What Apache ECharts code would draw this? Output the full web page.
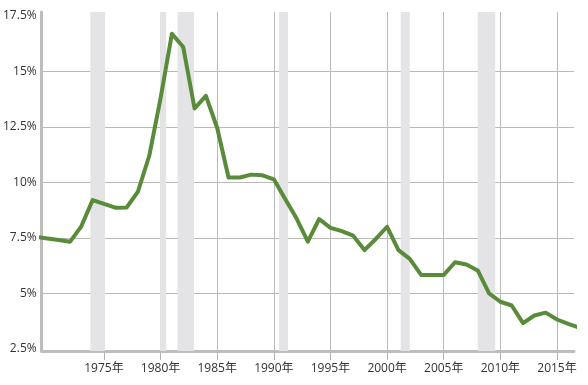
<!DOCTYPE html>
<html>
<head>
<meta charset="utf-8">
<script src="https://cdn.jsdelivr.net/npm/echarts@6/dist/echarts.min.js"></script>
<style>
html,body{margin:0;padding:0;background:#fff;}
#chart{width:588px;height:385px;}
</style>
</head>
<body>
<div id="chart"></div>
<script>
// Years and rate values (%)
const years = [1969,1970,1971,1972,1973,1974,1975,1976,1977,1978,1979,1980,1981,1982,1983,1984,1985,1986,1987,1988,1989,1990,1991,1992,1993,1994,1995,1996,1997,1998,1999,2000,2001,2002,2003,2004,2005,2006,2007,2008,2009,2010,2011,2012,2013,2014,2015,2016,2017];
const rates = [7.55,7.47,7.40,7.32,8.02,9.2,9.03,8.86,8.87,9.58,11.2,13.8,16.7,16.1,13.33,13.9,12.45,10.22,10.22,10.35,10.32,10.14,9.25,8.38,7.33,8.35,7.95,7.8,7.6,6.95,7.45,8.0,6.95,6.55,5.83,5.83,5.83,6.4,6.3,6.03,5.0,4.62,4.45,3.66,4.0,4.13,3.82,3.62,3.45];
// Recession periods (start, end)
const recessionStart = [1973.8,1979.95,1981.5,1990.45,2001.2,2008.0];
const recessionEnd   = [1975.1,1980.5,1982.95,1991.25,2002.0,2009.55];
// Tick labels
const xTickYears = [1975,1980,1985,1990,1995,2000,2005,2010,2015];
const yTickValues = [2.5,5,7.5,10,12.5,15,17.5];
const yTickLabels = ['2.5%','5%','7.5%','10%','12.5%','15%','17.5%'];
const yGridValues = [5,7.5,10,12.5,15];

const chart = echarts.init(document.getElementById('chart'), null, {renderer:'canvas'});
const font = '"Open Sans", "Noto Sans CJK JP", sans-serif';
const option = {
  animation:false,
  grid:{left:40,right:14,top:12,bottom:34,containLabel:false},
  xAxis:{
    type:'value', min:1969.5, max:2016.5,
    axisLine:{show:true,lineStyle:{color:'#bdbdbd',width:3}},
    axisTick:{show:true,customValues:xTickYears,length:9,lineStyle:{color:'#b4b4b4',width:1}},
    axisLabel:{customValues:xTickYears,formatter:v=>v+'年',color:'#333',fontSize:12,fontFamily:font,margin:12},
    splitLine:{show:true,lineStyle:{color:'#b9b9b9',width:1}}
  },
  yAxis:{
    type:'value', min:2.4, max:17.68,
    axisLine:{show:true,lineStyle:{color:'#bdbdbd',width:3}},
    axisTick:{show:false,customValues:yGridValues},
    axisLabel:{customValues:yTickValues,formatter:v=>{const i=yTickValues.indexOf(v);return i>=0?yTickLabels[i]:'';},color:'#333',fontSize:12,fontFamily:font,margin:5},
    splitLine:{show:true,lineStyle:{color:'#b9b9b9',width:1}}
  },
  series:[
    {
      type:'line', data:[], z:-1, silent:true,
      markArea:{silent:true,itemStyle:{color:'#e4e4e7'},
        data:recessionStart.map((s,i)=>[{xAxis:s},{xAxis:recessionEnd[i]}])}
    },
    {
      type:'line', data:years.map((y,i)=>[y,rates[i]]),
      showSymbol:false, clip:true, z:3,
      lineStyle:{color:'#598b3a',width:4,join:'round',cap:'round'}
    }
  ]
};
chart.setOption(option);
</script>
</body>
</html>
